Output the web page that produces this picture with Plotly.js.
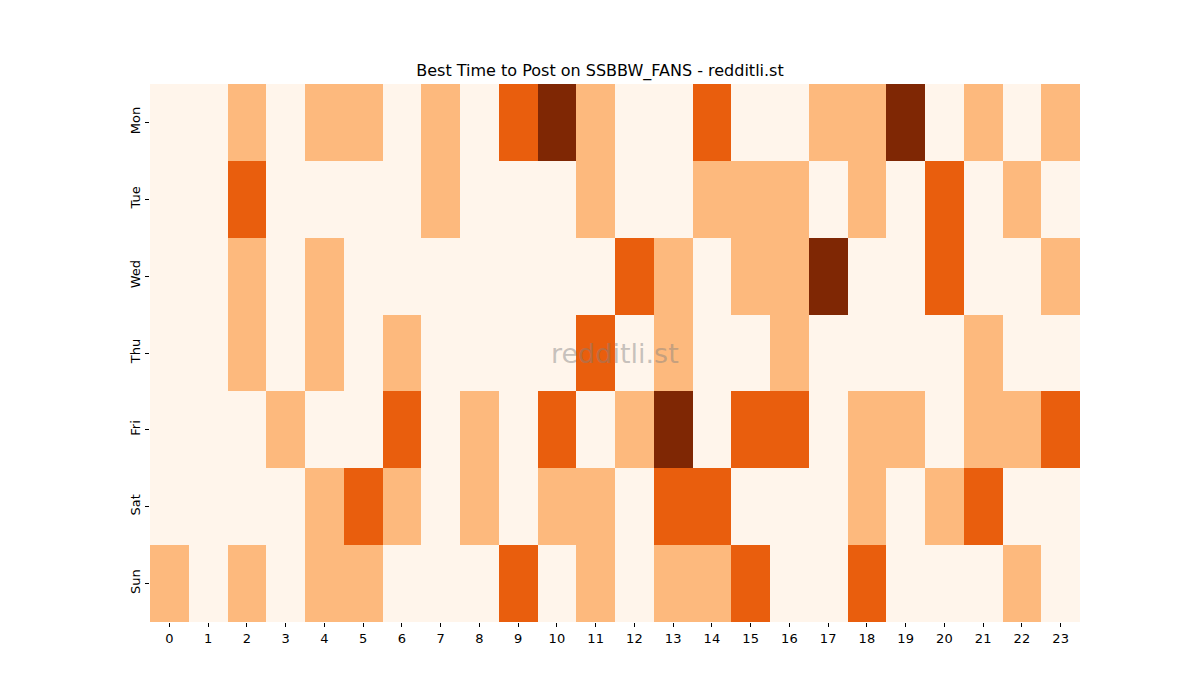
<!DOCTYPE html>
<html>
<head>
<meta charset="utf-8">
<script src="https://cdn.plot.ly/plotly-3.0.1.min.js"></script>
<style>html,body{margin:0;padding:0;background:#fff;}#chart{width:1200px;height:700px;}</style>
</head>
<body>
<div id="chart"></div>
<script>
const hours = [0,1,2,3,4,5,6,7,8,9,10,11,12,13,14,15,16,17,18,19,20,21,22,23];
const days = ["Mon","Tue","Wed","Thu","Fri","Sat","Sun"];
const mon = [0,0,1,0,1,1,0,1,0,2,3,1,0,0,2,0,0,1,1,3,0,1,0,1];
const tue = [0,0,2,0,0,0,0,1,0,0,0,1,0,0,1,1,1,0,1,0,2,0,1,0];
const wed = [0,0,1,0,1,0,0,0,0,0,0,0,2,1,0,1,1,3,0,0,2,0,0,1];
const thu = [0,0,1,0,1,0,1,0,0,0,0,2,0,1,0,0,1,0,0,0,0,1,0,0];
const fri = [0,0,0,1,0,0,2,0,1,0,2,0,1,3,0,2,2,0,1,1,0,1,1,2];
const sat = [0,0,0,0,1,2,1,0,1,0,1,1,0,2,2,0,0,0,1,0,1,2,0,0];
const sun = [1,0,1,0,1,1,0,0,0,2,0,1,0,1,1,2,0,0,2,0,0,0,1,0];
const title = "Best Time to Post on SSBBW_FANS - redditli.st";
const watermark = "redditli.st";

const font = "DejaVu Sans, sans-serif";
const trace = {
  type: "heatmap",
  x: hours,
  y: days,
  z: [mon, tue, wed, thu, fri, sat, sun],
  zmin: 0, zmax: 3,
  colorscale: [[0, "#fff5eb"], [1/3, "#fdb97d"], [2/3, "#e95e0d"], [1, "#7f2704"]],
  showscale: false,
  xgap: 0, ygap: 0,
  hoverinfo: "x+y+z"
};
const layout = {
  width: 1200, height: 700,
  margin: {l: 150, r: 120, t: 84, b: 78, pad: 0},
  paper_bgcolor: "#ffffff",
  plot_bgcolor: "#ffffff",
  font: {family: font, size: 13, color: "#000"},
  title: {text: title, font: {family: font, size: 16, color: "#000"}, x: 0.5, xanchor: "center", y: 1 - 70/700, yanchor: "middle"},
  xaxis: {
    tickmode: "array", tickvals: hours, ticktext: hours.map(String),
    ticks: "outside", ticklen: 4, tickwidth: 1, tickcolor: "#000",
    showgrid: false, zeroline: false, showline: false,
    range: [-0.5, 23.5], fixedrange: true,
    tickfont: {family: font, size: 13, color: "#000"}
  },
  yaxis: {
    type: "category", autorange: "reversed",
    ticks: "outside", ticklen: 4, tickwidth: 1, tickcolor: "#000",
    showgrid: false, zeroline: false, showline: false,
    tickangle: -90,
    tickfont: {family: font, size: 13, color: "#000"}
  },
  annotations: [{
    text: watermark, xref: "paper", yref: "paper", x: 0.5, y: 0.5,
    xanchor: "center", yanchor: "middle", showarrow: false,
    font: {family: font, size: 27, color: "rgba(128,128,128,0.45)"}
  }]
};
Plotly.newPlot("chart", [trace], layout, {displayModeBar: false, staticPlot: true});
</script>
</body>
</html>
